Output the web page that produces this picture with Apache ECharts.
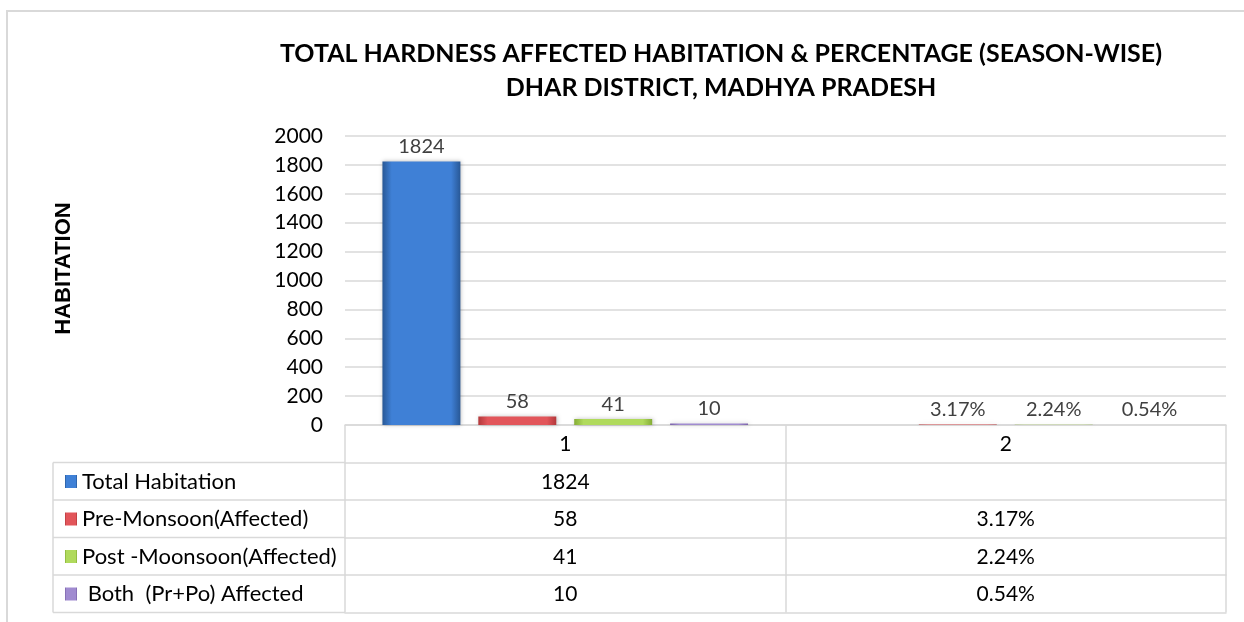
<!DOCTYPE html>
<html>
<head>
<meta charset="utf-8">
<script src="https://cdn.jsdelivr.net/npm/echarts@6/dist/echarts.min.js"></script>
<style>
  html, body { margin: 0; padding: 0; background: #fff; }
  #main { width: 1244px; height: 622px; }
</style>
</head>
<body>
<div id="main"></div>
<script>
// data
var titleLines = ['TOTAL HARDNESS AFFECTED HABITATION & PERCENTAGE (SEASON-WISE)', 'DHAR DISTRICT, MADHYA PRADESH'];
var categories = ['1', '2'];
var seriesNames = ['Total Habitation', 'Pre-Monsoon(Affected)', 'Post -Moonsoon(Affected)', ' Both  (Pr+Po) Affected'];
var totalHabitation = [1824, null];
var preMonsoon = [58, 3.17];
var postMonsoon = [41, 2.24];
var bothAffected = [10, 0.54];
var yTicks = [0, 200, 400, 600, 800, 1000, 1200, 1400, 1600, 1800, 2000];

var seriesValues = [totalHabitation, preMonsoon, postMonsoon, bothAffected];
// cat 2 holds percentages
var fmt = function (v, idx) {
  if (v == null) return '';
  return idx === 1 ? v.toFixed(2) + '%' : String(v);
};

// layout
var gridLeft = 345, gridRight = 18, gridTop = 136, axisY = 425;
var rowH = 37.5, tableLeft = 53;
var font = 'Lato, "Open Sans", sans-serif';
var lineColor = '#d9d9d9';

var colors = [
  ['#285896', '#3f80d6', '#285896'],
  ['#b3383b', '#e2555a', '#b3383b'],
  ['#85ad36', '#b0da5c', '#85ad36'],
  ['#7a62a8', '#a08bd0', '#7a62a8']
];
var legendColors = ['#3a74c2', '#c94245', '#9cc44e', '#8064a2'];

function grad(c) {
  return new echarts.graphic.LinearGradient(0, 0, 1, 0, [
    { offset: 0, color: c[0] }, { offset: 0.12, color: c[1] },
    { offset: 0.88, color: c[1] }, { offset: 1, color: c[2] }
  ]);
}

var myChart = echarts.init(document.getElementById('main'));

// axes: first is the bar axis + header row, next ones are data table rows
var xAxes = [{
  type: 'category',
  data: categories,
  position: 'bottom',
  axisLine: { lineStyle: { color: lineColor, width: 1.5 } },
  axisTick: { show: true, length: rowH, interval: 0, lineStyle: { color: lineColor, width: 1.5 } },
  axisLabel: { margin: 9, fontSize: 21, color: '#000', fontFamily: font }
}];
seriesValues.forEach(function (vals, r) {
  xAxes.push({
    type: 'category',
    data: vals.map(function (v, i) { return fmt(v, i); }),
    position: 'bottom',
    offset: rowH * (r + 1),
    axisLine: { lineStyle: { color: lineColor, width: 1.5 } },
    axisTick: { show: true, length: rowH, interval: 0, lineStyle: { color: lineColor, width: 1.5 } },
    axisLabel: { margin: 9, fontSize: 21, color: '#000', fontFamily: font, interval: 0 }
  });
});
// closing line of the table
xAxes.push({
  type: 'category',
  data: categories,
  position: 'bottom',
  offset: rowH * 5,
  axisLine: { lineStyle: { color: lineColor, width: 1.5 } },
  axisTick: { show: false },
  axisLabel: { show: false }
});

var series = seriesValues.map(function (vals, r) {
  return {
    name: seriesNames[r],
    type: 'bar',
    data: vals,
    barGap: '23%',
    barCategoryGap: '17%',
    itemStyle: {
      color: grad(colors[r]),
      shadowColor: 'rgba(0,0,0,0.25)',
      shadowBlur: 4,
      shadowOffsetX: 1
    },
    label: {
      show: true,
      position: 'top',
      distance: 5,
      fontSize: 20,
      color: '#404040',
      fontFamily: font,
      formatter: function (p) { return fmt(p.value, p.dataIndex); }
    }
  };
});

// left column of the data table (row header box)
var tableTop = axisY + rowH;
var graphics = [];
for (var k = 0; k <= 4; k++) {
  graphics.push({
    type: 'line',
    shape: { x1: tableLeft, y1: tableTop + rowH * k, x2: gridLeft, y2: tableTop + rowH * k },
    style: { stroke: lineColor, lineWidth: 1.5 }
  });
}
graphics.push({
  type: 'line',
  shape: { x1: tableLeft, y1: tableTop, x2: tableLeft, y2: tableTop + rowH * 4 },
  style: { stroke: lineColor, lineWidth: 1.5 }
});
// outer chart frame
graphics.push({
  type: 'polyline',
  shape: { points: [[7, 700], [7, 11], [1300, 11]] },
  style: { stroke: lineColor, lineWidth: 2, fill: null }
});
// title
titleLines.forEach(function (t, i) {
  graphics.push({
    type: 'text',
    x: 721,
    y: 54 + 34 * i,
    style: {
      text: t, textAlign: 'center', textVerticalAlign: 'middle',
      fontSize: 25, fontWeight: 'bold', fill: '#000', fontFamily: font
    }
  });
});

var option = {
  animation: false,
  color: legendColors,
  legend: {
    orient: 'vertical',
    left: 60,
    top: tableTop + 3,
    itemWidth: 12,
    itemHeight: 13,
    itemGap: rowH - 22,
    icon: 'rect',
    selectedMode: false,
    data: seriesNames,
    textStyle: { fontSize: 22, color: '#000', fontFamily: font, lineHeight: 22 }
  },
  grid: { left: gridLeft, right: gridRight, top: gridTop, bottom: 622 - axisY },
  xAxis: xAxes,
  yAxis: {
    type: 'value',
    min: 0,
    max: 2000,
    interval: 200,
    name: 'HABITATION',
    nameLocation: 'middle',
    nameGap: 270,
    nameTextStyle: {
      fontSize: 22, fontWeight: 'bold', color: '#000',
      fontFamily: 'Liberation Sans, Arial, sans-serif', padding: [0, 0, 0, 24]
    },
    axisLine: { show: false },
    axisTick: { show: false },
    axisLabel: {
      margin: 22, fontSize: 21, color: '#000', fontFamily: font,
      formatter: function (v) { return yTicks.indexOf(v) >= 0 ? String(v) : ''; }
    },
    splitLine: { lineStyle: { color: lineColor, width: 1.5 } }
  },
  graphic: graphics,
  series: series
};
myChart.setOption(option);
</script>
</body>
</html>
